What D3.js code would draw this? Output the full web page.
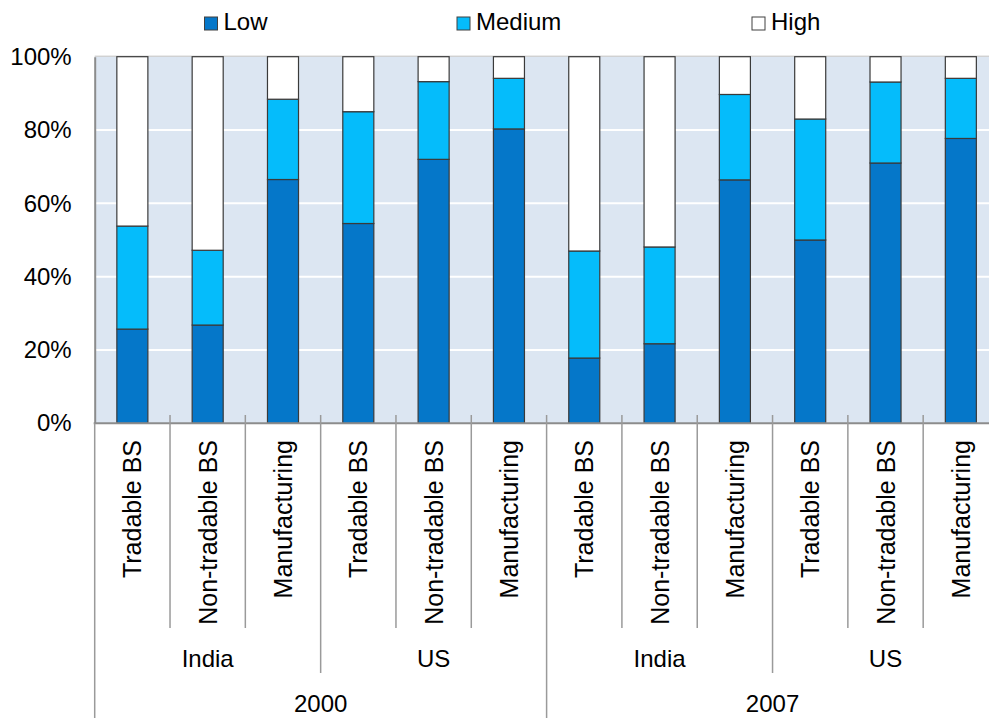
<!DOCTYPE html>
<html>
<head>
<meta charset="utf-8">
<script src="https://cdn.jsdelivr.net/npm/d3@7"></script>
<style>
  html, body { margin: 0; padding: 0; background: #fff; }
  svg { display: block; font-family: "Liberation Sans", Arial, sans-serif; }
</style>
</head>
<body>
<svg id="chart" width="989" height="718"></svg>
<script>
const years = ['2000', '2007'];
const countries = ['India', 'US'];
const sectors = ['Tradable BS', 'Non-tradable BS', 'Manufacturing'];
const seriesNames = ['Low', 'Medium', 'High'];
const low    = [25.7, 26.8, 66.5, 54.5, 72.0, 80.3, 17.8, 21.7, 66.4, 50.0, 71.0, 77.7];
const medium = [28.1, 20.4, 21.9, 30.5, 21.2, 13.8, 29.2, 26.4, 23.3, 33.0, 22.1, 16.4];
const high   = [46.2, 52.8, 11.6, 15.0, 6.8, 5.9, 53.0, 51.9, 10.3, 17.0, 6.9, 5.9];
const yTicks = [0, 20, 40, 60, 80, 100];

const colors = { Low: '#0577c9', Medium: '#05bcfb', High: '#ffffff' };

const plot = { left: 94.7, right: 998.5, top: 56.7, bottom: 423.3 };

const svg = d3.select('#chart');

// rows of the table, one per bar
const rows = [];
years.forEach(y => countries.forEach(c => sectors.forEach(s => {
  const i = rows.length;
  rows.push({ key: y + '|' + c + '|' + s, year: y, country: c, sector: s,
    Low: low[i], Medium: medium[i], High: high[i] });
})));

const x = d3.scaleBand()
  .domain(rows.map(d => d.key))
  .range([plot.left, plot.right])
  .paddingInner(0.588)
  .paddingOuter(0.294);
const step = x.step();

const yScale = d3.scaleLinear()
  .domain([0, 100])
  .range([plot.bottom, plot.top]);

// plot background
svg.append('rect')
  .attr('x', plot.left)
  .attr('y', plot.top)
  .attr('width', plot.right - plot.left)
  .attr('height', plot.bottom - plot.top)
  .attr('fill', '#dce6f2');

svg.append('line')
  .attr('x1', plot.left).attr('x2', plot.right)
  .attr('y1', plot.top - 0.5).attr('y2', plot.top - 0.5)
  .attr('stroke', '#bfbfbf');

// gridlines
svg.append('g')
  .selectAll('line')
  .data(yTicks.filter(t => t > 0 && t < 100))
  .enter()
  .append('line')
  .attr('x1', plot.left)
  .attr('x2', plot.right)
  .attr('y1', d => yScale(d))
  .attr('y2', d => yScale(d))
  .attr('stroke', '#ffffff')
  .attr('stroke-width', 2);

// y axis
const yAxis = svg.append('g')
  .attr('transform', `translate(${plot.left},0)`)
  .call(d3.axisLeft(yScale).tickValues(yTicks).tickFormat(d => d + '%').tickSize(0).tickPadding(23));
yAxis.select('.domain').attr('stroke', '#8c8c8c').attr('stroke-width', 2);
yAxis.selectAll('text')
  .attr('font-size', 24)
  .attr('fill', '#000')
  .style('font-family', '"Liberation Sans", Arial, sans-serif');

// stacked bars
const stacked = d3.stack().keys(seriesNames)(rows);
svg.append('g')
  .selectAll('g')
  .data(stacked)
  .enter()
  .append('g')
  .attr('fill', d => colors[d.key])
  .selectAll('rect')
  .data(d => d)
  .enter()
  .append('rect')
  .attr('x', d => x(d.data.key))
  .attr('width', x.bandwidth())
  .attr('y', d => yScale(d[1]))
  .attr('height', d => yScale(d[0]) - yScale(d[1]))
  .attr('stroke', '#3a3a3a')
  .attr('stroke-width', 1.2);

// x axis line
svg.append('line')
  .attr('x1', plot.left - 1).attr('x2', plot.right)
  .attr('y1', plot.bottom).attr('y2', plot.bottom)
  .attr('stroke', '#8c8c8c')
  .attr('stroke-width', 2);

// separators between categories, groups and years
const sepG = svg.append('g').attr('stroke', '#9a9a9a').attr('stroke-width', 1.5);
for (let i = 0; i <= rows.length; i++) {
  const xx = plot.left + i * step;
  let y2 = 628;
  if (i % 6 === 0) y2 = 718;
  else if (i % 3 === 0) y2 = 673;
  sepG.append('line')
    .attr('x1', xx).attr('x2', xx)
    .attr('y1', i === 0 ? plot.bottom : 415)
    .attr('y2', y2);
}

// category labels (rotated)
svg.append('g')
  .selectAll('text')
  .data(rows)
  .enter()
  .append('text')
  .attr('transform', d => `translate(${x(d.key) + x.bandwidth() / 2 + 9},440) rotate(-90)`)
  .attr('text-anchor', 'end')
  .attr('font-size', 25)
  .attr('fill', '#000')
  .text(d => d.sector);

// country labels
const groups = [];
years.forEach((y, yi) => countries.forEach((c, ci) => {
  groups.push({ name: c, start: (yi * countries.length + ci) * sectors.length });
}));
svg.append('g')
  .selectAll('text')
  .data(groups)
  .enter()
  .append('text')
  .attr('x', d => plot.left + (d.start + sectors.length / 2) * step)
  .attr('y', 667)
  .attr('text-anchor', 'middle')
  .attr('font-size', 24)
  .attr('fill', '#000')
  .text(d => d.name);

// year labels
const perYear = countries.length * sectors.length;
svg.append('g')
  .selectAll('text')
  .data(years)
  .enter()
  .append('text')
  .attr('x', (d, i) => plot.left + (i * perYear + perYear / 2) * step)
  .attr('y', 712)
  .attr('text-anchor', 'middle')
  .attr('font-size', 24)
  .attr('fill', '#000')
  .text(d => d);

// legend
const legendX = [204.5, 457, 752];
const legend = svg.append('g')
  .selectAll('g')
  .data(seriesNames)
  .enter()
  .append('g')
  .attr('transform', (d, i) => `translate(${legendX[i]},17)`);
legend.append('rect')
  .attr('width', 13)
  .attr('height', 13)
  .attr('fill', d => colors[d])
  .attr('stroke', '#404040')
  .attr('stroke-width', 1);
legend.append('text')
  .attr('x', 19)
  .attr('y', 13)
  .attr('font-size', 24)
  .attr('fill', '#000')
  .text(d => d);
</script>
</body>
</html>
